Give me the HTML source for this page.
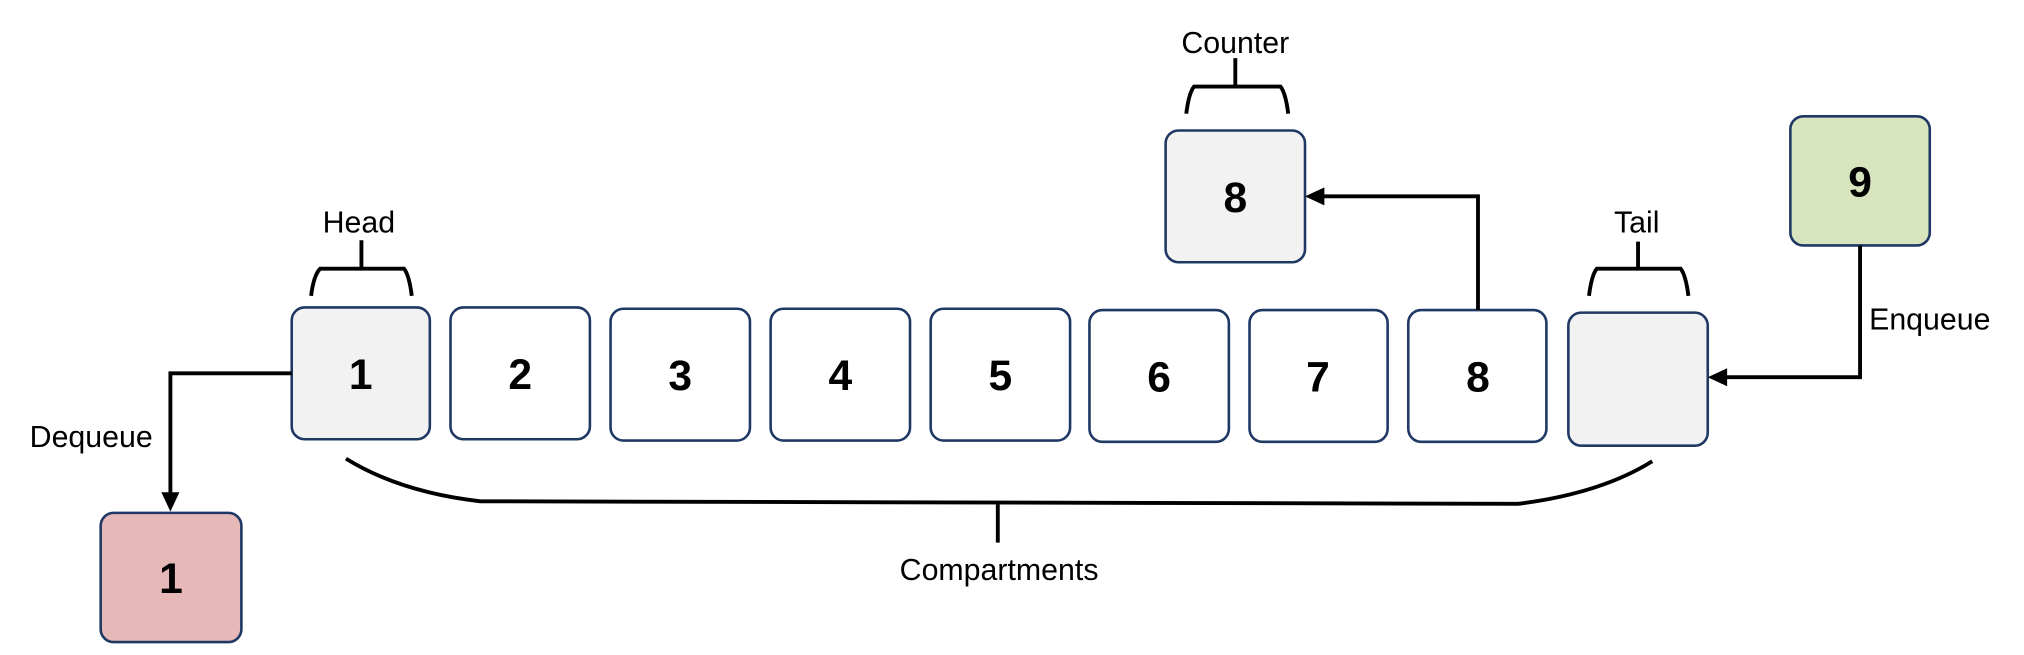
<!DOCTYPE html>
<html><head><meta charset="utf-8"><style>
html,body{margin:0;padding:0;background:#fff;}
svg{display:block;}
text{font-family:"Liberation Sans",sans-serif;}
.lbl{font-size:23.5px;fill:#000;}
.num{font-size:33px;font-weight:bold;fill:#000;}
.box{stroke:#1f3864;stroke-width:2;}
.ln{stroke:#000;stroke-width:3;fill:none;}
</style></head><body>
<svg width="2024" height="655" viewBox="0 0 1568 507" preserveAspectRatio="none">

<g>
<g><rect class="box" x="226" y="238" width="107" height="102" rx="10" fill="#f2f2f2"/><text class="num" x="279.5" y="301" text-anchor="middle">1</text></g>
<g><rect class="box" x="349" y="238" width="108" height="102" rx="10" fill="#fff"/><text class="num" x="403" y="301" text-anchor="middle">2</text></g>
<g><rect class="box" x="473" y="239" width="108" height="102" rx="10" fill="#fff"/><text class="num" x="527" y="302" text-anchor="middle">3</text></g>
<g><rect class="box" x="597" y="239" width="108" height="102" rx="10" fill="#fff"/><text class="num" x="651" y="302" text-anchor="middle">4</text></g>
<g><rect class="box" x="721" y="239" width="108" height="102" rx="10" fill="#fff"/><text class="num" x="775" y="302" text-anchor="middle">5</text></g>
<g><rect class="box" x="844" y="240" width="108" height="102" rx="10" fill="#fff"/><text class="num" x="898" y="303" text-anchor="middle">6</text></g>
<g><rect class="box" x="968" y="240" width="107" height="102" rx="10" fill="#fff"/><text class="num" x="1021" y="303" text-anchor="middle">7</text></g>
<g><rect class="box" x="1091" y="240" width="107" height="102" rx="10" fill="#fff"/><text class="num" x="1145" y="303" text-anchor="middle">8</text></g>
<g><rect class="box" x="1215" y="242" width="108" height="103" rx="10" fill="#f2f2f2"/></g>
</g>

<g><rect class="box" x="903" y="101" width="108" height="102" rx="10" fill="#f2f2f2"/><text class="num" x="957" y="164" text-anchor="middle">8</text></g>
<g><rect class="box" x="1387" y="90" width="108" height="100" rx="10" fill="#d7e4bd"/><text class="num" x="1441" y="152" text-anchor="middle">9</text></g>
<g><rect class="box" x="78" y="397" width="109" height="100" rx="10" fill="#e6b9b8"/><text class="num" x="132.5" y="459" text-anchor="middle">1</text></g>

<g><path class="ln" d="M280,186 V208 M241,229 Q243,213 248,208 H313 Q317,213 319,229"/></g>
<text class="lbl" x="278" y="180" text-anchor="middle">Head</text>
<g><path class="ln" d="M957,45 V67 M919,88 Q921,72 925,67 H992 Q996,72 998,88"/></g>
<text class="lbl" x="957" y="41" text-anchor="middle">Counter</text>
<g><path class="ln" d="M1269,187 V208 M1231,229 Q1233,213 1237,208 H1302 Q1306,213 1308,229"/></g>
<text class="lbl" x="1268" y="180" text-anchor="middle">Tail</text>

<path class="ln" d="M226,289 H132 V382"/>
<path d="M125,381 L139,381 L132,396 z" fill="#000"/>
<text class="lbl" x="23" y="346">Dequeue</text>

<path class="ln" d="M1145,240 V152 H1025"/>
<path d="M1026,145 L1026,159 L1011,152 z" fill="#000"/>

<path class="ln" d="M1441,190 V292 H1337"/>
<path d="M1338,285 L1338,299 L1323,292 z" fill="#000"/>
<text class="lbl" x="1448" y="255">Enqueue</text>

<g><path class="ln" d="M268,355 Q310,381 372,388 L1176,390 Q1240,382 1280,357 M773,390 V420"/></g>
<text class="lbl" x="774" y="449" text-anchor="middle">Compartments</text>
</svg>
</body></html>
